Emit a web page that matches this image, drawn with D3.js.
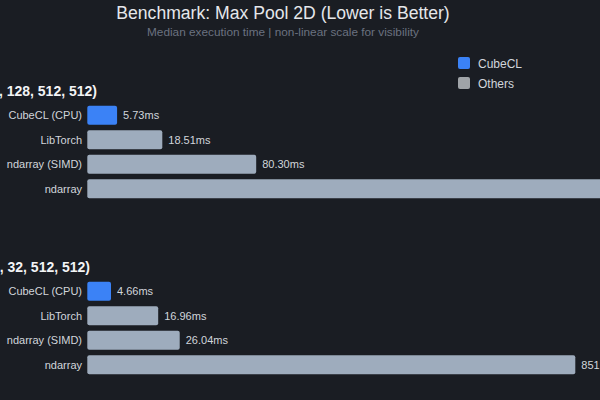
<!DOCTYPE html>
<html>
<head>
<meta charset="utf-8">
<script src="https://cdn.jsdelivr.net/npm/d3@7"></script>
<style>
  body { margin: 0; background: #1a1d23; }
  svg { display: block; font-family: "Liberation Sans", Arial, sans-serif; }
</style>
</head>
<body>
<div id="chart"></div>
<script>
// data
var panelTitles = ["Shape (2, 128, 512, 512)", "Shape (2, 32, 512, 512)"];
var categories = ["CubeCL (CPU)", "LibTorch", "ndarray (SIMD)", "ndarray"];
var timesLarge = [5.73, 18.51, 80.30, 3405.12];
var timesSmall = [4.66, 16.96, 26.04, 851.42];
var legendLabels = ["CubeCL", "Others"];

var W = 600, H = 400;
var blue = "#3b82f6", grey = "#9eacbd", greyKey = "#a0a4a8";

var svg = d3.select("#chart").append("svg")
    .attr("width", W)
    .attr("height", H);

svg.append("rect").attr("width", W).attr("height", H).attr("fill", "#1a1d23");

svg.append("text")
    .attr("x", 283).attr("y", 19)
    .attr("text-anchor", "middle")
    .attr("fill", "#e5e7eb")
    .style("font-size", "17.6px")
    .text("Benchmark: Max Pool 2D (Lower is Better)");

svg.append("text")
    .attr("x", 283).attr("y", 36)
    .attr("text-anchor", "middle")
    .attr("fill", "#6b7280")
    .style("font-size", "11.8px")
    .text("Median execution time | non-linear scale for visibility");

// legend
var legend = svg.selectAll("g.key")
    .data(legendLabels)
    .enter().append("g")
    .attr("class", "key")
    .attr("transform", function(d, i) { return "translate(458," + (57 + i * 20) + ")"; });
legend.append("rect")
    .attr("width", 12).attr("height", 12).attr("rx", 2)
    .attr("fill", function(d, i) { return i == 0 ? blue : greyKey; });
legend.append("text")
    .attr("x", 20).attr("y", 10.5)
    .attr("fill", "#d1d5db")
    .style("font-size", "12px")
    .text(function(d) { return d; });

// non-linear x scale shared by both panels
var x = d3.scalePow().exponent(0.38)
    .domain([1.7, 851.42])
    .range([87.3, 575.3]);

var panels = [
    { title: panelTitles[0], values: timesLarge, titleX: 97, titleY: 96, band: [103, 201] },
    { title: panelTitles[1], values: timesSmall, titleX: 90, titleY: 272, band: [279, 377] }
];

panels.forEach(function(p) {
    var y = d3.scaleBand()
        .domain(categories)
        .range(p.band)
        .paddingInner(0.22)
        .paddingOuter(0.11);

    svg.append("text")
        .attr("x", p.titleX).attr("y", p.titleY)
        .attr("text-anchor", "end")
        .attr("fill", "#f3f4f6")
        .style("font-size", "14px")
        .style("font-weight", "bold")
        .text(p.title);

    var rows = svg.append("g").selectAll("g")
        .data(p.values)
        .enter().append("g");

    rows.append("rect")
        .attr("x", x(1.7))
        .attr("y", function(d, i) { return y(categories[i]); })
        .attr("width", function(d) { return x(d) - x(1.7); })
        .attr("height", y.bandwidth())
        .attr("rx", 2)
        .attr("fill", function(d, i) { return i == 0 ? blue : grey; });

    rows.append("text")
        .attr("x", 82)
        .attr("y", function(d, i) { return y(categories[i]) + y.bandwidth() / 2; })
        .attr("dy", "0.35em")
        .attr("text-anchor", "end")
        .attr("fill", "#d1d5db")
        .style("font-size", "11px")
        .text(function(d, i) { return categories[i]; });

    rows.append("text")
        .attr("x", function(d) { return x(d) + 6; })
        .attr("y", function(d, i) { return y(categories[i]) + y.bandwidth() / 2; })
        .attr("dy", "0.35em")
        .attr("fill", "#d1d5db")
        .style("font-size", "11px")
        .text(function(d) { return d.toFixed(2) + "ms"; });
});
</script>
</body>
</html>
